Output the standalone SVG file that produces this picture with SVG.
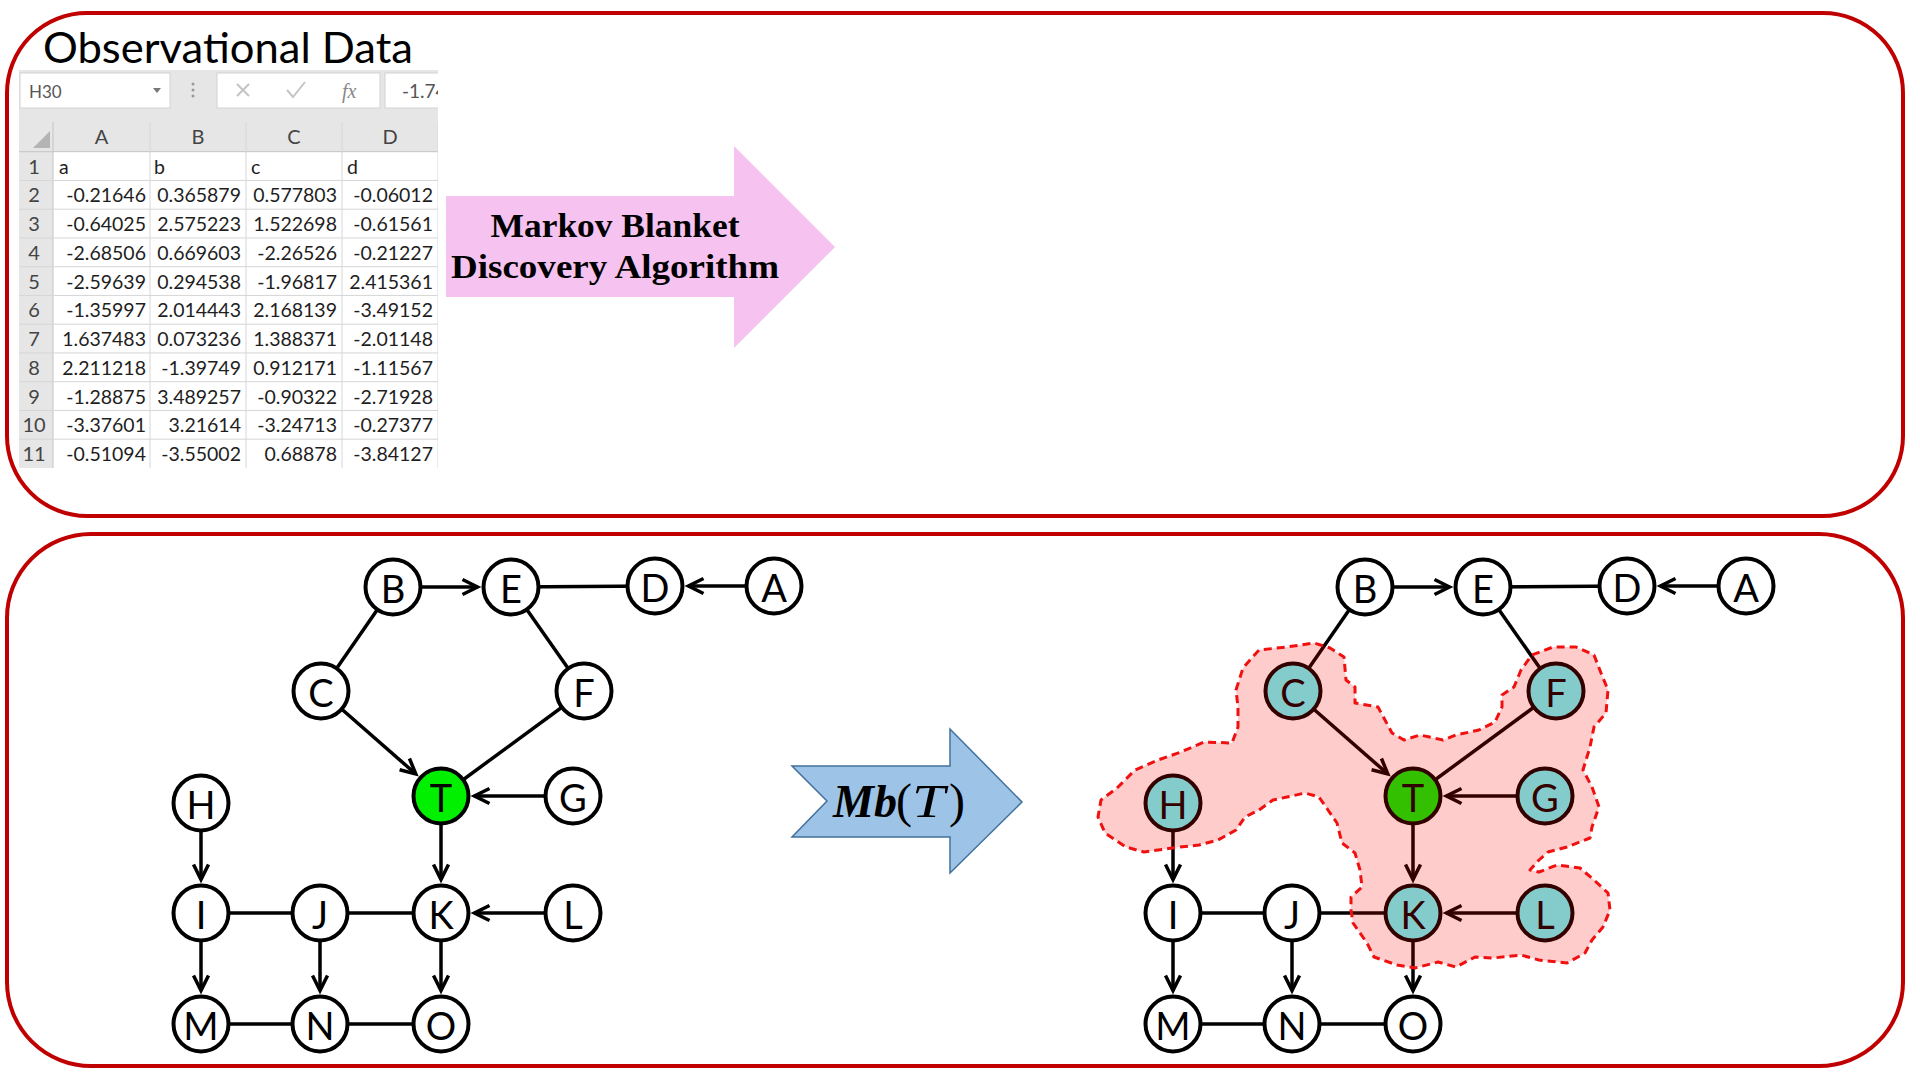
<svg xmlns="http://www.w3.org/2000/svg" width="1920" height="1080" viewBox="0 0 1920 1080">
<style>
.panel{fill:none;stroke:#C00000;stroke-width:4}
.cell{font-family:Lato,'Liberation Sans',sans-serif;font-size:19.5px;fill:#1e1e1e}
.num{text-anchor:end}
.hdr{font-family:Lato,'Liberation Sans',sans-serif;font-size:20px;fill:#444;text-anchor:middle}
.grid{stroke:#D6D6D6;stroke-width:1;fill:none}
.fbox{fill:#fff;stroke:#D2D2D2;stroke-width:1}
.node ellipse{stroke:#000;stroke-width:4}
.node text{font-family:Lato,'Liberation Sans',sans-serif;font-size:38px;text-anchor:middle;fill:#000}
.w{fill:#fff}
.cy{fill:#66FFFF}
.gr{fill:#00F000}
.edge{stroke:#000;stroke-width:3.5;fill:none}
.arr{marker-end:url(#arrow)}
</style>
<defs>
<marker id="arrow" markerUnits="userSpaceOnUse" markerWidth="24" markerHeight="24" viewBox="-20 -12 24 24" refX="0" refY="0" orient="auto">
<path d="M-15,-7.5 L0,0 L-15,7.5" fill="none" stroke="#000" stroke-width="3.5"/>
</marker>
<clipPath id="sheetclip"><rect x="19" y="60" width="419" height="410"/></clipPath>
</defs>
<rect width="1920" height="1080" fill="#fff"/>

<!-- Panels -->
<rect class="panel" x="7" y="13" width="1896" height="503" rx="80" ry="80"/>
<rect class="panel" x="7" y="534" width="1896" height="532" rx="84" ry="84"/>

<!-- Top panel: observational data -->
<text x="43" y="63" font-family="Lato,'Liberation Sans',sans-serif" font-size="42" fill="#000" textLength="370" lengthAdjust="spacingAndGlyphs">Observational Data</text>

<g id="spreadsheet" clip-path="url(#sheetclip)">
<rect x="19" y="70" width="420" height="82" fill="#E6E6E6"/>
<rect x="19" y="122" width="34" height="346" fill="#E6E6E6"/>
<rect x="53" y="152" width="386" height="316" fill="#fff"/>
<rect class="fbox" x="20" y="73" width="150" height="35"/>
<text x="29" y="98" font-family="Lato,'Liberation Sans',sans-serif" font-size="17" fill="#555">H30</text>
<polygon points="153,88 161,88 157,93" fill="#777"/>
<circle cx="193" cy="84" r="1.5" fill="#9A9A9A"/>
<circle cx="193" cy="90" r="1.5" fill="#9A9A9A"/>
<circle cx="193" cy="96" r="1.5" fill="#9A9A9A"/>
<rect class="fbox" x="217" y="73" width="163" height="35"/>
<path d="M237,84 L249,96 M249,84 L237,96" stroke="#C4C4C4" stroke-width="2" fill="none"/>
<path d="M287,90 L293,97 L305,82" stroke="#C4C4C4" stroke-width="2" fill="none"/>
<text x="342" y="98" font-family="'Liberation Serif',serif" font-style="italic" font-size="20" fill="#888">fx</text>
<rect class="fbox" x="385" y="73" width="60" height="35"/>
<text x="402" y="98" font-family="Lato,'Liberation Sans',sans-serif" font-size="19" fill="#555">-1.74</text>
<line x1="19" y1="151.7" x2="439" y2="151.7" stroke="#C4C4C4" stroke-width="1"/>
<line x1="53" y1="122" x2="53" y2="468" stroke="#C4C4C4" stroke-width="1"/>
<path class="grid" d="M19,180.45H439M19,209.2H439M19,237.95H439M19,266.7H439M19,295.45H439M19,324.2H439M19,352.95H439M19,381.7H439M19,410.45H439M19,439.2H439M150,122V468M246,122V468M342,122V468M438,122V468"/>
<polygon points="50,131 50,148 33,148" fill="#B4B4B4"/>
<text class="hdr" x="101.5" y="144">A</text>
<text class="hdr" x="198" y="144">B</text>
<text class="hdr" x="294" y="144">C</text>
<text class="hdr" x="390" y="144">D</text>
<g class="hdr">
<text x="34" y="173.7">1</text><text x="34" y="202.45">2</text><text x="34" y="231.2">3</text><text x="34" y="259.95">4</text><text x="34" y="288.7">5</text><text x="34" y="317.45">6</text><text x="34" y="346.2">7</text><text x="34" y="374.95">8</text><text x="34" y="403.7">9</text><text x="34" y="432.45">10</text><text x="34" y="461.2">11</text>
</g>
<g class="cell">
<text x="59" y="173.7">a</text><text x="154" y="173.7">b</text><text x="251" y="173.7">c</text><text x="347" y="173.7">d</text>
</g>
<g class="cell num">
<text x="146" y="202.45">-0.21646</text><text x="241" y="202.45">0.365879</text><text x="337" y="202.45">0.577803</text><text x="433" y="202.45">-0.06012</text>
<text x="146" y="231.2">-0.64025</text><text x="241" y="231.2">2.575223</text><text x="337" y="231.2">1.522698</text><text x="433" y="231.2">-0.61561</text>
<text x="146" y="259.95">-2.68506</text><text x="241" y="259.95">0.669603</text><text x="337" y="259.95">-2.26526</text><text x="433" y="259.95">-0.21227</text>
<text x="146" y="288.7">-2.59639</text><text x="241" y="288.7">0.294538</text><text x="337" y="288.7">-1.96817</text><text x="433" y="288.7">2.415361</text>
<text x="146" y="317.45">-1.35997</text><text x="241" y="317.45">2.014443</text><text x="337" y="317.45">2.168139</text><text x="433" y="317.45">-3.49152</text>
<text x="146" y="346.2">1.637483</text><text x="241" y="346.2">0.073236</text><text x="337" y="346.2">1.388371</text><text x="433" y="346.2">-2.01148</text>
<text x="146" y="374.95">2.211218</text><text x="241" y="374.95">-1.39749</text><text x="337" y="374.95">0.912171</text><text x="433" y="374.95">-1.11567</text>
<text x="146" y="403.7">-1.28875</text><text x="241" y="403.7">3.489257</text><text x="337" y="403.7">-0.90322</text><text x="433" y="403.7">-2.71928</text>
<text x="146" y="432.45">-3.37601</text><text x="241" y="432.45">3.21614</text><text x="337" y="432.45">-3.24713</text><text x="433" y="432.45">-0.27377</text>
<text x="146" y="461.2">-0.51094</text><text x="241" y="461.2">-3.55002</text><text x="337" y="461.2">0.68878</text><text x="433" y="461.2">-3.84127</text>
</g>
</g>

<!-- Pink arrow -->
<g id="mb-discovery-arrow">
<polygon points="446,196 734,196 734,146 835,247 734,348 734,297 446,297" fill="#F6C3F1"/>
<text x="615" y="237" font-family="'Liberation Serif',serif" font-weight="bold" font-size="33" text-anchor="middle" textLength="249" lengthAdjust="spacingAndGlyphs">Markov Blanket</text>
<text x="615" y="278" font-family="'Liberation Serif',serif" font-weight="bold" font-size="33" text-anchor="middle" textLength="328" lengthAdjust="spacingAndGlyphs">Discovery Algorithm</text>
</g>

<!-- Blue arrow -->
<g id="mb-arrow">
<polygon points="792,766 950,766 950,729 1022,802 950,873 950,837 792,837 827,801" fill="#9DC3E6" stroke="#41719C" stroke-width="1.5"/>
<text y="817" font-family="'Liberation Serif',serif" font-size="46" fill="#000"><tspan x="833" font-weight="bold" font-style="italic">Mb</tspan><tspan x="896" font-size="48">(</tspan><tspan x="912" font-style="italic" textLength="33" lengthAdjust="spacingAndGlyphs">T</tspan><tspan x="949" font-size="48">)</tspan></text>
</g>

<!-- Left graph -->
<g id="left-graph">
<g id="left-connectors">
<line class="edge arr" x1="393" y1="587" x2="477.5" y2="587"/>
<line class="edge" x1="511" y1="587" x2="655" y2="586"/>
<line class="edge arr" x1="774" y1="586" x2="688.5" y2="586"/>
<line class="edge" x1="393" y1="587" x2="321" y2="691"/>
<line class="edge" x1="511" y1="587" x2="584" y2="691"/>
<line class="edge arr" x1="321" y1="691" x2="415.8" y2="774"/>
<line class="edge" x1="584" y1="691" x2="441" y2="796"/>
<line class="edge arr" x1="573" y1="796" x2="474.5" y2="796"/>
<line class="edge arr" x1="441" y1="796" x2="441" y2="879.5"/>
<line class="edge arr" x1="201" y1="803" x2="201" y2="879.5"/>
<line class="edge" x1="201" y1="913" x2="441" y2="913"/>
<line class="edge arr" x1="573" y1="913" x2="474.5" y2="913"/>
<line class="edge arr" x1="201" y1="913" x2="201" y2="990.5"/>
<line class="edge arr" x1="320" y1="913" x2="320" y2="990.5"/>
<line class="edge arr" x1="441" y1="913" x2="441" y2="990.5"/>
<line class="edge" x1="201" y1="1024" x2="441" y2="1024"/>
</g>
<g class="node" id="L-B"><ellipse class="w" cx="393" cy="587" rx="27.5" ry="27.5"/><text x="393" y="603">B</text></g>
<g class="node" id="L-E"><ellipse class="w" cx="511" cy="587" rx="27.5" ry="27.5"/><text x="511" y="603">E</text></g>
<g class="node" id="L-D"><ellipse class="w" cx="655" cy="586" rx="27.5" ry="27.5"/><text x="655" y="602">D</text></g>
<g class="node" id="L-A"><ellipse class="w" cx="774" cy="586" rx="27.5" ry="27.5"/><text x="774" y="602">A</text></g>
<g class="node" id="L-C"><ellipse class="w" cx="321" cy="691" rx="27.5" ry="27.5"/><text x="321" y="707">C</text></g>
<g class="node" id="L-F"><ellipse class="w" cx="584" cy="691" rx="27.5" ry="27.5"/><text x="584" y="707">F</text></g>
<g class="node" id="L-T"><ellipse class="gr" cx="441" cy="796" rx="27.5" ry="27.5"/><text x="441" y="812">T</text></g>
<g class="node" id="L-G"><ellipse class="w" cx="573" cy="796" rx="27.5" ry="27.5"/><text x="573" y="812">G</text></g>
<g class="node" id="L-H"><ellipse class="w" cx="201" cy="803" rx="27.5" ry="27.5"/><text x="201" y="819">H</text></g>
<g class="node" id="L-I"><ellipse class="w" cx="201" cy="913" rx="27.5" ry="27.5"/><text x="201" y="929">I</text></g>
<g class="node" id="L-J"><ellipse class="w" cx="320" cy="913" rx="27.5" ry="27.5"/><text x="320" y="929">J</text></g>
<g class="node" id="L-K"><ellipse class="w" cx="441" cy="913" rx="27.5" ry="27.5"/><text x="441" y="929">K</text></g>
<g class="node" id="L-L"><ellipse class="w" cx="573" cy="913" rx="27.5" ry="27.5"/><text x="573" y="929">L</text></g>
<g class="node" id="L-M"><ellipse class="w" cx="201" cy="1024" rx="27.5" ry="27.5"/><text x="201" y="1040">M</text></g>
<g class="node" id="L-N"><ellipse class="w" cx="320" cy="1024" rx="27.5" ry="27.5"/><text x="320" y="1040">N</text></g>
<g class="node" id="L-O"><ellipse class="w" cx="441" cy="1024" rx="27.5" ry="27.5"/><text x="441" y="1040">O</text></g>
</g>

<!-- Right graph -->
<g id="right-graph" transform="translate(972,0)">
<g id="right-connectors">
<line class="edge arr" x1="393" y1="587" x2="477.5" y2="587"/>
<line class="edge" x1="511" y1="587" x2="655" y2="586"/>
<line class="edge arr" x1="774" y1="586" x2="688.5" y2="586"/>
<line class="edge" x1="393" y1="587" x2="321" y2="691"/>
<line class="edge" x1="511" y1="587" x2="584" y2="691"/>
<line class="edge arr" x1="321" y1="691" x2="415.8" y2="774"/>
<line class="edge" x1="584" y1="691" x2="441" y2="796"/>
<line class="edge arr" x1="573" y1="796" x2="474.5" y2="796"/>
<line class="edge arr" x1="441" y1="796" x2="441" y2="879.5"/>
<line class="edge arr" x1="201" y1="803" x2="201" y2="879.5"/>
<line class="edge" x1="201" y1="913" x2="441" y2="913"/>
<line class="edge arr" x1="573" y1="913" x2="474.5" y2="913"/>
<line class="edge arr" x1="201" y1="913" x2="201" y2="990.5"/>
<line class="edge arr" x1="320" y1="913" x2="320" y2="990.5"/>
<line class="edge arr" x1="441" y1="913" x2="441" y2="990.5"/>
<line class="edge" x1="201" y1="1024" x2="441" y2="1024"/>
</g>
<g class="node" id="R-B"><ellipse class="w" cx="393" cy="587" rx="27.5" ry="27.5"/><text x="393" y="603">B</text></g>
<g class="node" id="R-E"><ellipse class="w" cx="511" cy="587" rx="27.5" ry="27.5"/><text x="511" y="603">E</text></g>
<g class="node" id="R-D"><ellipse class="w" cx="655" cy="586" rx="27.5" ry="27.5"/><text x="655" y="602">D</text></g>
<g class="node" id="R-A"><ellipse class="w" cx="774" cy="586" rx="27.5" ry="27.5"/><text x="774" y="602">A</text></g>
<g class="node" id="R-C"><ellipse class="cy" cx="321" cy="691" rx="27.5" ry="27.5"/><text x="321" y="707">C</text></g>
<g class="node" id="R-F"><ellipse class="cy" cx="584" cy="691" rx="27.5" ry="27.5"/><text x="584" y="707">F</text></g>
<g class="node" id="R-T"><ellipse class="gr" cx="441" cy="796" rx="27.5" ry="27.5"/><text x="441" y="812">T</text></g>
<g class="node" id="R-G"><ellipse class="cy" cx="573" cy="796" rx="27.5" ry="27.5"/><text x="573" y="812">G</text></g>
<g class="node" id="R-H"><ellipse class="cy" cx="201" cy="803" rx="27.5" ry="27.5"/><text x="201" y="819">H</text></g>
<g class="node" id="R-I"><ellipse class="w" cx="201" cy="913" rx="27.5" ry="27.5"/><text x="201" y="929">I</text></g>
<g class="node" id="R-J"><ellipse class="w" cx="320" cy="913" rx="27.5" ry="27.5"/><text x="320" y="929">J</text></g>
<g class="node" id="R-K"><ellipse class="cy" cx="441" cy="913" rx="27.5" ry="27.5"/><text x="441" y="929">K</text></g>
<g class="node" id="R-L"><ellipse class="cy" cx="573" cy="913" rx="27.5" ry="27.5"/><text x="573" y="929">L</text></g>
<g class="node" id="R-M"><ellipse class="w" cx="201" cy="1024" rx="27.5" ry="27.5"/><text x="201" y="1040">M</text></g>
<g class="node" id="R-N"><ellipse class="w" cx="320" cy="1024" rx="27.5" ry="27.5"/><text x="320" y="1040">N</text></g>
<g class="node" id="R-O"><ellipse class="w" cx="441" cy="1024" rx="27.5" ry="27.5"/><text x="441" y="1040">O</text></g>
</g>

<!-- Markov blanket region -->
<path id="markov-blanket-region" d="M1236,690 L1243,668 L1259,650 L1287,647 L1314,643 L1330,648 L1344,657 L1346,680 L1355,687 L1355,703 L1378,707 L1385,720 L1392,733 L1404,740 L1420,735 L1443,740 L1456,735 L1479,730 L1495,722 L1502,707 L1502,695 L1514,687 L1521,670 L1532,655 L1553,647 L1576,647 L1594,655 L1601,673 L1608,690 L1606,713 L1594,727 L1590,747 L1583,770 L1592,787 L1599,807 L1592,827 L1590,838 L1567,847 L1548,852 L1539,860 L1530,870 L1539,872 L1557,865 L1580,868 L1594,880 L1608,893 L1610,910 L1603,927 L1592,940 L1585,953 L1567,963 L1539,960 L1521,955 L1493,958 L1475,957 L1456,967 L1438,962 L1415,968 L1397,965 L1374,957 L1367,943 L1353,923 L1351,910 L1351,897 L1362,887 L1360,870 L1355,853 L1342,843 L1337,823 L1328,810 L1319,797 L1305,793 L1287,797 L1273,800 L1259,810 L1245,817 L1236,830 L1218,840 L1199,845 L1172,848 L1144,852 L1126,847 L1105,833 L1098,817 L1101,800 L1117,788 L1135,770 L1158,760 L1181,752 L1204,742 L1232,743 L1238,727 L1238,707 Z" fill="#FF0000" fill-opacity="0.2" stroke="#F01010" stroke-width="3" stroke-dasharray="8 5" stroke-linejoin="round"/>
</svg>
